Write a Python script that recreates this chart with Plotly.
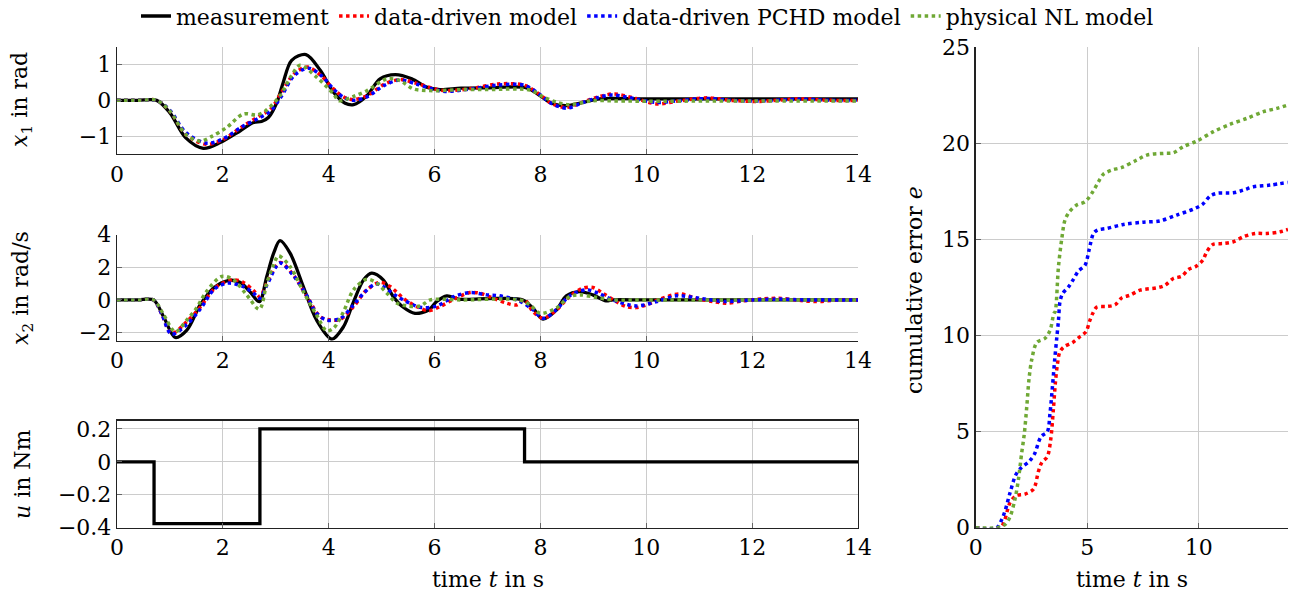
import plotly.graph_objects as go

# ---------------- data ----------------
# x1 (rad)
t_x1_meas = [0, 0.4, 0.75, 1.0, 1.3, 1.63, 1.95, 2.33, 2.58, 2.73, 2.86, 3.02, 3.14, 3.3, 3.57, 3.84, 4.09, 4.31, 4.47, 4.72, 4.97, 5.26, 5.57, 5.85, 6.1, 6.5, 7.0, 7.74, 7.99, 8.21, 8.49, 8.8, 9.12, 10, 12, 14]
x1_meas   = [0, 0, 0, -0.35, -1.05, -1.34, -1.18, -0.85, -0.62, -0.59, -0.48, -0.06, 0.5, 1.12, 1.28, 0.84, 0.23, -0.08, -0.12, 0.13, 0.6, 0.72, 0.6, 0.37, 0.3, 0.34, 0.35, 0.35, 0.13, -0.08, -0.15, -0.06, 0.04, 0.04, 0.04, 0.04]

t_x1_dd = [0, 0.4, 0.75, 1.0, 1.3, 1.68, 2.0, 2.35, 2.7, 2.9, 3.1, 3.35, 3.6, 3.85, 4.09, 4.3, 4.47, 4.75, 5.05, 5.35, 5.65, 6.0, 6.2, 6.7, 7.2, 7.7, 8.0, 8.2, 8.48, 8.8, 9.1, 9.4, 9.8, 10.2, 10.6, 11.15, 11.6, 12.1, 12.9, 13.5, 14]
x1_dd   = [0, 0, 0, -0.3, -0.95, -1.23, -1.1, -0.75, -0.43, -0.25, 0.2, 0.75, 0.93, 0.7, 0.32, 0.08, 0.02, 0.15, 0.45, 0.58, 0.48, 0.32, 0.27, 0.33, 0.46, 0.42, 0.15, -0.08, -0.2, -0.05, 0.1, 0.18, 0.05, -0.1, -0.02, 0.07, 0.0, -0.03, 0.04, 0.0, 0.0]

t_x1_pchd = [0, 0.4, 0.75, 1.0, 1.3, 1.7, 2.0, 2.35, 2.7, 2.9, 3.1, 3.35, 3.62, 3.87, 4.1, 4.3, 4.5, 4.75, 5.05, 5.35, 5.65, 6.0, 6.2, 6.7, 7.2, 7.7, 8.0, 8.2, 8.5, 8.8, 9.1, 9.35, 9.8, 10.2, 10.6, 11.15, 11.6, 12.1, 12.9, 13.5, 14]
x1_pchd   = [0, 0, 0, -0.28, -0.9, -1.2, -1.08, -0.75, -0.48, -0.3, 0.1, 0.7, 0.9, 0.68, 0.3, 0.07, 0.0, 0.12, 0.42, 0.57, 0.46, 0.3, 0.25, 0.32, 0.43, 0.42, 0.15, -0.08, -0.22, -0.06, 0.08, 0.15, 0.04, -0.06, -0.01, 0.05, 0.0, -0.02, 0.03, 0.0, 0.0]

t_x1_nl = [0, 0.4, 0.75, 1.0, 1.3, 1.57, 1.8, 2.07, 2.39, 2.64, 2.8, 3.08, 3.3, 3.46, 3.77, 4.09, 4.2, 4.47, 4.72, 5.1, 5.35, 5.6, 5.98, 6.5, 7.0, 7.8, 8.05, 8.3, 8.55, 8.99, 9.5, 12, 14]
x1_nl   = [0, 0, 0, -0.3, -0.95, -1.14, -1.0, -0.76, -0.38, -0.41, -0.3, 0.13, 0.7, 0.98, 0.65, 0.18, -0.01, 0.11, 0.27, 0.6, 0.55, 0.32, 0.27, 0.3, 0.3, 0.29, 0.1, -0.05, -0.12, -0.01, -0.02, -0.02, -0.02]

# x2 (rad/s)
t_x2_meas = [0, 0.4, 0.69, 0.88, 1.1, 1.32, 1.57, 1.82, 2.1, 2.33, 2.51, 2.69, 2.83, 2.96, 3.08, 3.27, 3.52, 3.77, 4.06, 4.28, 4.47, 4.66, 4.81, 5.03, 5.22, 5.41, 5.63, 5.89, 6.04, 6.23, 6.48, 6.99, 7.67, 7.86, 8.05, 8.3, 8.49, 8.74, 8.99, 9.24, 9.37, 10, 12, 14]
x2_meas   = [0, 0, 0, -1.03, -2.3, -1.85, -0.31, 0.72, 1.19, 1.07, 0.51, -0.1, 1.44, 2.87, 3.63, 2.87, 0.82, -1.23, -2.4, -1.64, -0.1, 1.23, 1.64, 1.23, 0.2, -0.45, -0.82, -0.62, -0.1, 0.25, 0.04, 0.08, 0.0, -0.51, -1.17, -0.62, 0.25, 0.51, 0.31, -0.06, 0.0, 0.0, 0.0, 0.0]

t_x2_dd = [0, 0.4, 0.69, 0.85, 1.03, 1.32, 1.57, 1.88, 2.2, 2.39, 2.58, 2.7, 2.83, 3.08, 3.33, 3.59, 3.84, 4.03, 4.22, 4.47, 4.72, 4.97, 5.16, 5.41, 5.66, 5.89, 6.1, 6.36, 6.67, 6.86, 7.11, 7.36, 7.55, 7.7, 7.86, 8.05, 8.3, 8.55, 8.8, 8.99, 9.18, 9.43, 9.62, 9.81, 10.0, 10.25, 10.63, 10.94, 11.26, 11.5, 11.82, 12.2, 12.5, 12.88, 13.2, 13.64, 14]
x2_dd   = [0, 0, 0, -0.9, -2.05, -1.33, -0.45, 0.82, 1.23, 1.07, 0.57, 0.2, 1.03, 2.3, 1.54, 0.2, -1.03, -1.23, -1.19, -0.41, 0.62, 1.07, 0.82, 0.1, -0.41, -0.66, -0.41, 0.04, 0.45, 0.41, 0.1, -0.2, -0.31, 0.0, -0.72, -1.13, -0.62, 0.2, 0.72, 0.76, 0.41, -0.1, -0.41, -0.47, -0.31, 0.04, 0.37, 0.1, -0.1, -0.2, -0.06, 0.06, 0.1, -0.02, -0.1, 0.0, 0.0]

t_x2_pchd = [0, 0.4, 0.69, 0.85, 1.03, 1.32, 1.57, 1.85, 2.1, 2.4, 2.58, 2.7, 2.83, 3.08, 3.33, 3.6, 3.77, 3.96, 4.22, 4.47, 4.66, 4.91, 5.3, 5.73, 6.04, 6.36, 6.67, 6.99, 7.23, 7.6, 7.86, 8.05, 8.3, 8.55, 8.87, 9.1, 9.37, 9.81, 10.2, 10.57, 11.0, 11.5, 12.0, 12.5, 13.0, 14]
x2_pchd   = [0, 0, 0, -0.9, -2.1, -1.5, -0.57, 0.7, 1.03, 0.8, 0.41, 0.1, 0.9, 2.26, 1.5, 0.2, -0.82, -1.23, -1.13, -0.31, 0.41, 0.98, 0.2, -0.45, -0.37, 0.2, 0.45, 0.31, 0.25, -0.06, -0.6, -1.13, -0.6, 0.25, 0.62, 0.4, 0.0, -0.37, -0.1, 0.25, 0.1, -0.1, 0.0, 0.05, 0.0, 0.0]

t_x2_nl = [0, 0.4, 0.69, 0.88, 1.1, 1.32, 1.5, 1.69, 1.98, 2.2, 2.45, 2.69, 2.83, 2.96, 3.05, 3.27, 3.52, 3.77, 3.96, 4.09, 4.28, 4.47, 4.72, 4.91, 5.1, 5.29, 5.48, 5.73, 5.92, 6.5, 7.6, 7.8, 7.99, 8.3, 8.55, 8.74, 9.05, 9.37, 10, 12, 14]
x2_nl   = [0, 0, 0, -0.9, -1.95, -1.23, -0.51, 0.51, 1.44, 1.23, 0.31, -0.57, 1.03, 2.15, 2.7, 2.05, 0.51, -0.92, -1.89, -1.74, -0.72, 0.62, 1.27, 1.03, 0.41, -0.2, -0.37, -0.37, 0.0, 0.0, 0.0, -0.3, -0.82, -0.5, 0.2, 0.31, 0.16, 0.0, 0.0, 0.0, 0.0]

# input u (Nm), piecewise constant
t_u = [0, 0.7, 2.7, 7.7, 14]
u   = [0, -0.375, 0.2, 0, 0]

# cumulative error e
t_e_dd = [0, 1.1, 1.54, 1.81, 2.21, 2.59, 2.81, 2.96, 3.21, 3.36, 3.48, 3.57, 3.66, 3.78, 3.98, 4.35, 4.68, 4.95, 5.1, 5.25, 5.43, 5.87, 6.25, 6.55, 6.92, 7.37, 8.12, 8.49, 8.86, 9.24, 9.54, 9.88, 10.18, 10.36, 10.63, 11.11, 11.55, 12.0, 12.53, 13.05, 13.65, 14]
e_dd   = [0, 0, 1.3, 1.67, 1.75, 2.01, 2.92, 3.39, 3.7, 4.57, 6.13, 7.52, 8.47, 9.17, 9.43, 9.64, 9.95, 10.21, 10.73, 11.16, 11.48, 11.51, 11.6, 11.96, 12.1, 12.36, 12.48, 12.62, 12.97, 13.09, 13.44, 13.61, 13.92, 14.36, 14.74, 14.79, 14.88, 15.14, 15.31, 15.31, 15.4, 15.52]

t_e_pchd = [0, 0.94, 1.17, 1.32, 1.54, 1.81, 2.06, 2.39, 2.63, 2.93, 3.21, 3.33, 3.44, 3.54, 3.63, 3.71, 3.78, 3.9, 4.16, 4.38, 4.6, 4.9, 5.08, 5.28, 5.46, 5.87, 6.62, 7.52, 8.27, 9.01, 9.76, 10.18, 10.51, 10.81, 11.55, 12.0, 12.45, 13.2, 14]
e_pchd   = [0, 0, 0.43, 0.89, 1.82, 2.78, 3.14, 3.44, 3.82, 4.74, 5.0, 5.95, 7.34, 8.73, 9.83, 10.78, 11.77, 12.19, 12.53, 12.92, 13.35, 13.66, 14.44, 15.31, 15.49, 15.57, 15.78, 15.9, 15.97, 16.27, 16.58, 16.84, 17.26, 17.4, 17.43, 17.57, 17.74, 17.83, 17.97]

t_e_nl = [0, 0.94, 1.32, 1.54, 1.76, 1.91, 2.06, 2.18, 2.29, 2.39, 2.51, 2.74, 3.11, 3.33, 3.51, 3.56, 3.71, 3.86, 4.0, 4.2, 4.53, 4.9, 5.25, 5.5, 5.73, 6.1, 6.55, 7.22, 7.67, 8.42, 8.86, 9.31, 9.91, 10.66, 11.4, 12.15, 12.9, 13.5, 14]
e_nl   = [0, 0, 0.17, 0.57, 1.48, 2.48, 3.87, 4.9, 6.3, 7.74, 8.73, 9.64, 9.86, 10.26, 11.16, 11.23, 13.58, 15.05, 16.0, 16.44, 16.79, 16.96, 17.48, 18.0, 18.4, 18.61, 18.75, 19.13, 19.39, 19.48, 19.51, 19.83, 20.12, 20.61, 20.99, 21.3, 21.65, 21.82, 22.0]

series_names = ["measurement", "data-driven model", "data-driven PCHD model", "physical NL model"]
series_colors = ["#000000", "#ff0000", "#0000ff", "#6fa835"]

x1_ticks = [-1, 0, 1]
x2_ticks = [-2, 0, 2, 4]
u_ticks = [-0.4, -0.2, 0, 0.2]
t_ticks = [0, 2, 4, 6, 8, 10, 12, 14]
e_ticks = [0, 5, 10, 15, 20, 25]
te_ticks = [0, 5, 10]

# ---------------- figure ----------------
W, H = 1295, 597
FONT = "DejaVu Serif"
FS = 22

def px_x(a, b):
    return [a / W, b / W]

def px_y(top, bottom):
    return [1 - bottom / H, 1 - top / H]

fig = go.Figure()

DOT_W = 3.5

def add(x, y, idx, xa, ya, show, shape="spline"):
    if idx == 0:
        line = dict(color=series_colors[0], width=3.3, shape=shape)
    else:
        line = dict(color=series_colors[idx], width=DOT_W, dash="dot", shape=shape)
    if shape == "spline":
        line["smoothing"] = 0.9
    fig.add_trace(go.Scatter(x=x, y=y, mode="lines", line=line, name=series_names[idx],
                             xaxis=xa, yaxis=ya, showlegend=show, legendgroup=series_names[idx],
                             hoverinfo="skip"))

# x1 panel
add(t_x1_meas, x1_meas, 0, "x", "y", True)
add(t_x1_dd, x1_dd, 1, "x", "y", True)
add(t_x1_pchd, x1_pchd, 2, "x", "y", True)
add(t_x1_nl, x1_nl, 3, "x", "y", True)
# x2 panel
add(t_x2_meas, x2_meas, 0, "x2", "y2", False)
add(t_x2_dd, x2_dd, 1, "x2", "y2", False)
add(t_x2_pchd, x2_pchd, 2, "x2", "y2", False)
add(t_x2_nl, x2_nl, 3, "x2", "y2", False)
# input panel
add(t_u, u, 0, "x3", "y3", False, shape="hv")
# error panel
add(t_e_dd, e_dd, 1, "x4", "y4", False)
add(t_e_pchd, e_pchd, 2, "x4", "y4", False)
add(t_e_nl, e_nl, 3, "x4", "y4", False)

grid = "#cccccc"
axis_col = "#222222"
tickfont = dict(family=FONT, size=FS, color="#000")

def ax(domain, anchor, ticks, rng, mirror=False):
    return dict(domain=domain, anchor=anchor, range=rng, tickvals=ticks, showgrid=True, gridcolor=grid,
                gridwidth=1, showline=True, linecolor=axis_col, linewidth=1.3, mirror=mirror,
                ticks="inside", ticklen=5, tickcolor="#666", tickfont=tickfont, zeroline=False,
                automargin=False, fixedrange=True)

left_dom = px_x(117, 858)
right_dom = px_x(975.7, 1288)

fig.update_layout(
    width=W, height=H,
    margin=dict(l=0, r=0, t=0, b=0, autoexpand=False),
    paper_bgcolor="white", plot_bgcolor="white",
    font=dict(family=FONT, size=FS, color="#000"),
    xaxis=ax(left_dom, "y", t_ticks, [0, 14]),
    yaxis=ax(px_y(46.7, 154), "x", x1_ticks, [-1.5, 1.5]),
    xaxis2=ax(left_dom, "y2", t_ticks, [0, 14]),
    yaxis2=ax(px_y(234.7, 340.7), "x2", x2_ticks, [-2.5, 4]),
    xaxis3=ax(left_dom, "y3", t_ticks, [0, 14], mirror=True),
    yaxis3=ax(px_y(420.7, 527.7), "x3", u_ticks, [-0.4, 0.25], mirror=True),
    xaxis4=ax(right_dom, "y4", te_ticks, [0, 14]),
    yaxis4=ax(px_y(47.3, 527.7), "x4", e_ticks, [0, 25]),
    legend=dict(orientation="h", x=0.50, xanchor="center", y=1.008, yanchor="top",
                font=dict(family=FONT, size=FS), bgcolor="rgba(0,0,0,0)",
                itemwidth=30, tracegroupgap=0),
    showlegend=True,
)

def ann(text, x, y, angle=0):
    fig.add_annotation(text=text, x=x / W, y=1 - y / H, xref="paper", yref="paper",
                       showarrow=False, textangle=angle, xanchor="center", yanchor="middle",
                       font=dict(family=FONT, size=FS, color="#000"))

ann("<i>x</i><sub>1</sub> in rad", 22, 100, -90)
ann("<i>x</i><sub>2</sub> in rad/s", 22, 288, -90)
ann("<i>u</i> in Nm", 22, 474, -90)
ann("cumulative error <i>e</i>", 914, 290, -90)
ann("time <i>t</i> in s", 488, 579)
ann("time <i>t</i> in s", 1132, 579)

fig.write_html("out.html", config={"displayModeBar": False, "staticPlot": True},
               post_script="document.body.style.margin='0';document.body.style.overflow='hidden';")
